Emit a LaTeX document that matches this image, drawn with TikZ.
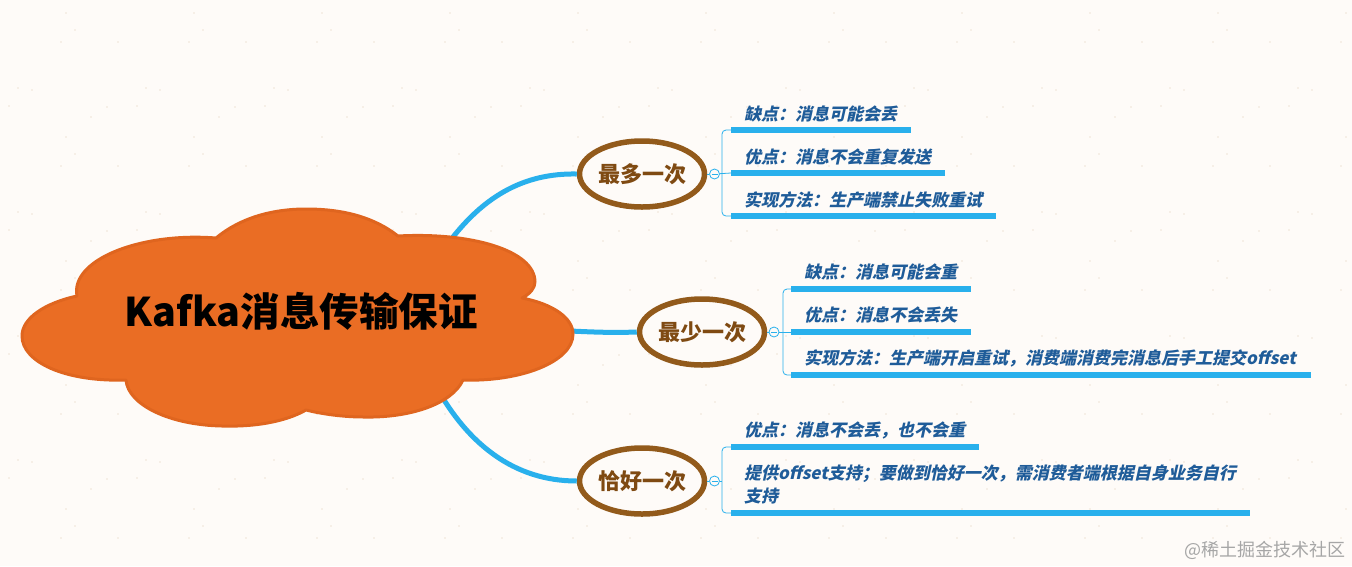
\documentclass[tikz,border=0pt]{standalone}
\usepackage{fontspec}
\setmainfont{Noto Sans CJK SC}
\newfontfamily\leaffont{Noto Sans CJK SC}
\usetikzlibrary{shapes.geometric}
\definecolor{paper}{HTML}{FEFBF8}
\definecolor{speck}{HTML}{EFE3D6}
\definecolor{cloudfill}{HTML}{EA6D24}
\definecolor{clouddraw}{HTML}{DF651F}
\definecolor{linkblue}{HTML}{29B0EC}
\definecolor{ovalbrown}{HTML}{925A1B}
\definecolor{ovaltext}{HTML}{7F4A12}
\definecolor{leaftext}{HTML}{1F5C99}
\tikzset{
    oval/.style={draw=ovalbrown, line width=5.5pt, ellipse, fill=paper, minimum width=125pt,
        minimum height=66pt, inner sep=0pt, text=ovaltext, font=\fontsize{22}{22}\selectfont\bfseries},
    leaf/.style={anchor=west, inner sep=0pt, text=leaftext, align=left,
        font=\fontsize{17}{23}\selectfont\leaffont\bfseries\addfontfeature{FakeSlant=0.22}},
    bar/.style={draw=linkblue, line width=5.5pt},
    link/.style={draw=linkblue, line width=5pt},
    fork/.style={draw=linkblue, line width=0.8pt, rounded corners=4pt},
    toggle/.style={draw=linkblue, line width=0.8pt, circle, fill=paper, minimum size=10pt, inner sep=0pt,
        path picture={\draw[linkblue, line width=0.8pt] ([xshift=2pt]path picture bounding box.west) -- ([xshift=-2pt]path picture bounding box.east);}}
}
\begin{document}
\begin{tikzpicture}[x=1pt, y=-1pt]

    % Paper
    \fill[paper] (0,0) rectangle (1352,566);
    \useasboundingbox (0,0) rectangle (1352,566);

    % Specks of the paper, one tile repeated
    \begin{scope}
        \clip (0,0) rectangle (1352,566);
        \foreach \tx in {0,128,...,1280} {
            \foreach \ty in {0,124,...,496} {
                \foreach \sx/\sy in {66/13,75/30,118/42,61/42,91/117,18/88,32/90,9/106,107/107} {
                    \fill[speck] (\tx+\sx,\ty+\sy) circle (0.8);
                }
            }
        }
    \end{scope}

    % Ends of the main links inside the cloud
    \coordinate (rootA) at (440,255);
    \coordinate (rootB) at (550,330);
    \coordinate (rootC) at (430,375);

    % The three ovals
    \node[oval] (most) at (642,174) {最多一次};
    \node[oval] (least) at (702,332) {最少一次};
    \node[oval] (exact) at (642,481) {恰好一次};

    % Main links
    \draw[link] (rootA) .. controls (480,195) and (525,173) .. (most.west);
    \draw[link] (rootB) .. controls (590,332) and (610,333) .. (least.west);
    \draw[link] (rootC) .. controls (465,445) and (515,481) .. (exact.west);

    % The cloud
    \draw[fill=cloudfill, draw=clouddraw, line width=3pt, line join=round]
        (216,238) .. controls (240,218) and (272,209) .. (306,209)
        .. controls (345,209) and (375,218) .. (398,236)
        .. controls (470,232) and (535,250) .. (535,282)
        .. controls (535,288) and (530,294) .. (522,298)
        .. controls (553,304) and (573,318) .. (573,334)
        .. controls (573,362) and (520,382) .. (463,380)
        .. controls (452,404) and (410,418) .. (364,417)
        .. controls (343,417) and (322,414) .. (306,410)
        .. controls (285,422) and (254,427) .. (222,426)
        .. controls (170,425) and (128,405) .. (126,380)
        .. controls (65,382) and (22,362) .. (22,336)
        .. controls (22,318) and (45,303) .. (77,296)
        .. controls (70,260) and (140,232) .. (216,238) -- cycle;
    \node[font=\fontsize{39.5}{39.5}\selectfont\bfseries, text=black] (root) at (301,311) {Kafka消息传输保证};

    % First group
    \node[toggle] (dotA) at (714.5,174) {};
    \coordinate (forkA) at (722,174);
    \coordinate (barAa) at (731,130);
    \coordinate (barAb) at (731,173);
    \coordinate (barAc) at (731,216);
    \coordinate (endAa) at (911,130);
    \coordinate (endAb) at (945,173);
    \coordinate (endAc) at (996,216);
    \draw[fork] (barAa) -| (forkA) |- (barAc);
    \draw[fork] (most.east) -- (dotA);
    \draw[fork] (dotA) -- (barAb);
    \draw[bar] (barAa) -- (endAa);
    \draw[bar] (barAb) -- (endAb);
    \draw[bar] (barAc) -- (endAc);
    \node[leaf] (minusA) at (744,114) {缺点：消息可能会丢};
    \node[leaf] (plusA) at (744,157) {优点：消息不会重复发送};
    \node[leaf] (howA) at (744,200) {实现方法：生产端禁止失败重试};

    % Second group
    \node[toggle] (dotB) at (774,332) {};
    \coordinate (forkB) at (783,332);
    \coordinate (barBa) at (791,289);
    \coordinate (barBb) at (791,332);
    \coordinate (barBc) at (791,375);
    \coordinate (endBa) at (971,289);
    \coordinate (endBb) at (971,332);
    \coordinate (endBc) at (1311,375);
    \draw[fork] (barBa) -| (forkB) |- (barBc);
    \draw[fork] (least.east) -- (dotB);
    \draw[fork] (dotB) -- (barBb);
    \draw[bar] (barBa) -- (endBa);
    \draw[bar] (barBb) -- (endBb);
    \draw[bar] (barBc) -- (endBc);
    \node[leaf] (minusB) at (804,272) {缺点：消息可能会重};
    \node[leaf] (plusB) at (804,315) {优点：消息不会丢失};
    \node[leaf] (howB) at (804,358) {实现方法：生产端开启重试，消费端消费完消息后手工提交offset};

    % Third group
    \node[toggle] (dotC) at (714.5,481) {};
    \coordinate (forkC) at (722,481);
    \coordinate (barCa) at (731,447);
    \coordinate (barCb) at (731,513);
    \coordinate (endCa) at (979,447);
    \coordinate (endCb) at (1250,513);
    \draw[fork] (barCa) -| (forkC) |- (barCb);
    \draw[fork] (exact.east) -- (dotC);
    \draw[fork] (dotC) -- (forkC);
    \draw[bar] (barCa) -- (endCa);
    \draw[bar] (barCb) -- (endCb);
    \node[leaf] (plusC) at (744,430) {优点：消息不会丢，也不会重};
    \node[leaf] (howC) at (744,484.5) {提供offset支持；要做到恰好一次，需消费者端根据自身业务自行\\支持};

    % Watermark
    \node[anchor=east, inner sep=0pt, text=black!35, font=\fontsize{18}{18}\selectfont] (mark) at (1346,550) {@稀土掘金技术社区};

\end{tikzpicture}
\end{document}
